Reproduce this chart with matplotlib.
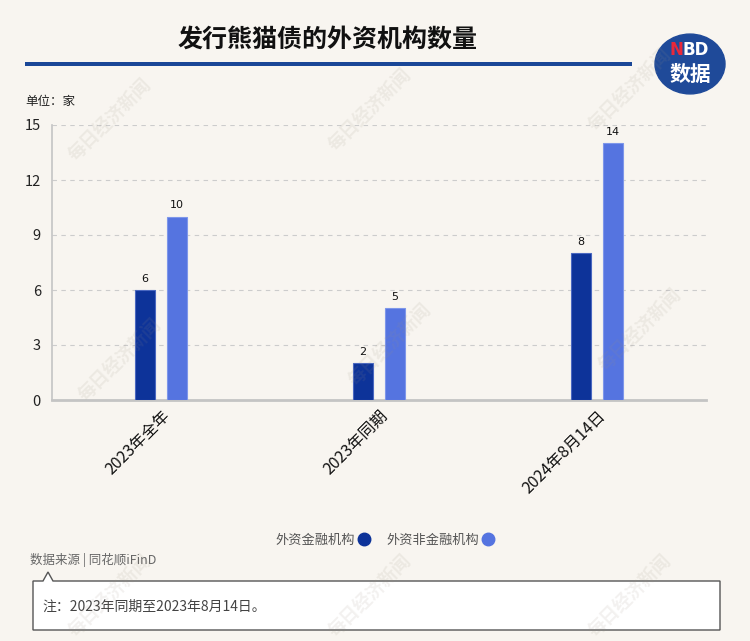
import matplotlib.pyplot as plt
from matplotlib.patches import Circle, Polygon, Rectangle
import numpy as np

plt.rcParams['font.family'] = ['Noto Sans CJK SC', 'DejaVu Sans']

# data
categories = ['2023年全年', '2023年同期', '2024年8月14日']
financial = [6, 2, 8]
non_financial = [10, 5, 14]
series_names = ['外资金融机构', '外资非金融机构']
y_ticks = [0, 3, 6, 9, 12, 15]

bg = '#f8f5f0'
dark_blue = '#0d3399'
light_blue = '#5574e0'

fig = plt.figure(figsize=(7.5, 6.41), dpi=100)
fig.patch.set_facecolor(bg)

W, H = 750, 641


def fx(px):
    return px / W


def fy(py):
    return 1 - py / H


ax = fig.add_axes([fx(52), fy(400), 654 / W, 275 / H])
ax.set_facecolor('none')

x = np.arange(len(categories))
bw = 0.092
off = 0.073
b1 = ax.bar(x - off, financial, bw, color=dark_blue, edgecolor='#4a68c0', linewidth=0.8,
            label=series_names[0], zorder=3)
b2 = ax.bar(x + off, non_financial, bw, color=light_blue, edgecolor='#7e97ea', linewidth=0.8,
            label=series_names[1], zorder=3)
for bars, vals in [(b1, financial), (b2, non_financial)]:
    for rect, v in zip(bars, vals):
        ax.text(rect.get_x() + rect.get_width() / 2, v + 0.35, str(v), ha='center', va='bottom',
                fontsize=8, color='#111111', family='DejaVu Sans')

ax.set_xlim(-0.5, 2.5)
ax.set_ylim(0, 15)
ax.set_yticks(y_ticks)
ax.set_yticklabels([str(t) for t in y_ticks], fontsize=10.5, color='#222222')
ax.set_xticks(x)
ax.set_xticklabels(categories, rotation=45, ha='right', rotation_mode='anchor', fontsize=11.5,
                   color='#111111')
ax.tick_params(axis='both', length=0)
ax.tick_params(axis='y', pad=8)
ax.tick_params(axis='x', pad=5)
ax.grid(axis='y', linestyle=(0, (4, 4)), color='#cccccc', linewidth=0.8, zorder=0)
for s in ['top', 'right']:
    ax.spines[s].set_visible(False)
ax.spines['left'].set_color('#c4c4c4')
ax.spines['left'].set_linewidth(1.2)
ax.spines['bottom'].set_color('#c4c4c4')
ax.spines['bottom'].set_linewidth(2)

# legend
handles = [plt.Line2D([], [], marker='o', linestyle='none', markersize=9, color=dark_blue),
           plt.Line2D([], [], marker='o', linestyle='none', markersize=9, color=light_blue)]
fig.legend(handles, series_names, loc='center', bbox_to_anchor=(fx(385), fy(540)), ncol=2,
           frameon=False, markerfirst=False, fontsize=9.5, labelcolor='#555555',
           handletextpad=0.2, columnspacing=1.2, handlelength=1.0)

# title and header
fig.text(fx(328), fy(40), '发行熊猫债的外资机构数量', ha='center', va='center', fontsize=18,
         fontweight='bold', color='#111111')
fig.add_artist(Rectangle((fx(25), fy(66)), fx(632) - fx(25), 4 / H, transform=fig.transFigure,
                         color='#1a4797', linewidth=0))
fig.add_artist(Circle((fx(690), fy(64)), 35 / W, transform=fig.transFigure, color='#1f4a99'))
fig.text(fx(683), fy(50), 'N', ha='right', va='center', fontsize=12, fontweight='bold',
         color='#e8283a', family='DejaVu Sans')
fig.text(fx(683), fy(50), 'BD', ha='left', va='center', fontsize=12, fontweight='bold',
         color='white', family='DejaVu Sans')
fig.text(fx(690), fy(74), '数据', ha='center', va='center', fontsize=15, fontweight='bold',
         color='white')
fig.text(fx(25), fy(101), '单位：家', ha='left', va='center', fontsize=9, color='#222222')

# source and note
fig.text(fx(30), fy(560), '数据来源 | 同花顺iFinD', ha='left', va='center', fontsize=9,
         color='#666666')
box = Polygon([(fx(33), fy(581)), (fx(43), fy(581)), (fx(48), fy(572)), (fx(53), fy(581)),
               (fx(720), fy(581)), (fx(720), fy(630)), (fx(33), fy(630))],
              closed=True, transform=fig.transFigure, facecolor='white', edgecolor='#555555',
              linewidth=1)
fig.add_artist(box)
fig.text(fx(42), fy(607), '注：2023年同期至2023年8月14日。', ha='left', va='center', fontsize=10,
         color='#444444')

# watermarks
for wx, wy in [(110, 120), (370, 110), (630, 90), (120, 360), (390, 345), (640, 330),
               (110, 596), (370, 596), (630, 596)]:
    fig.text(fx(wx), fy(wy), '每日经济新闻', rotation=45, fontsize=13, color='#9a9080',
             alpha=0.12, ha='center', va='center', fontweight='bold', zorder=5)

fig.savefig('out.png', dpi=100, facecolor=bg)
